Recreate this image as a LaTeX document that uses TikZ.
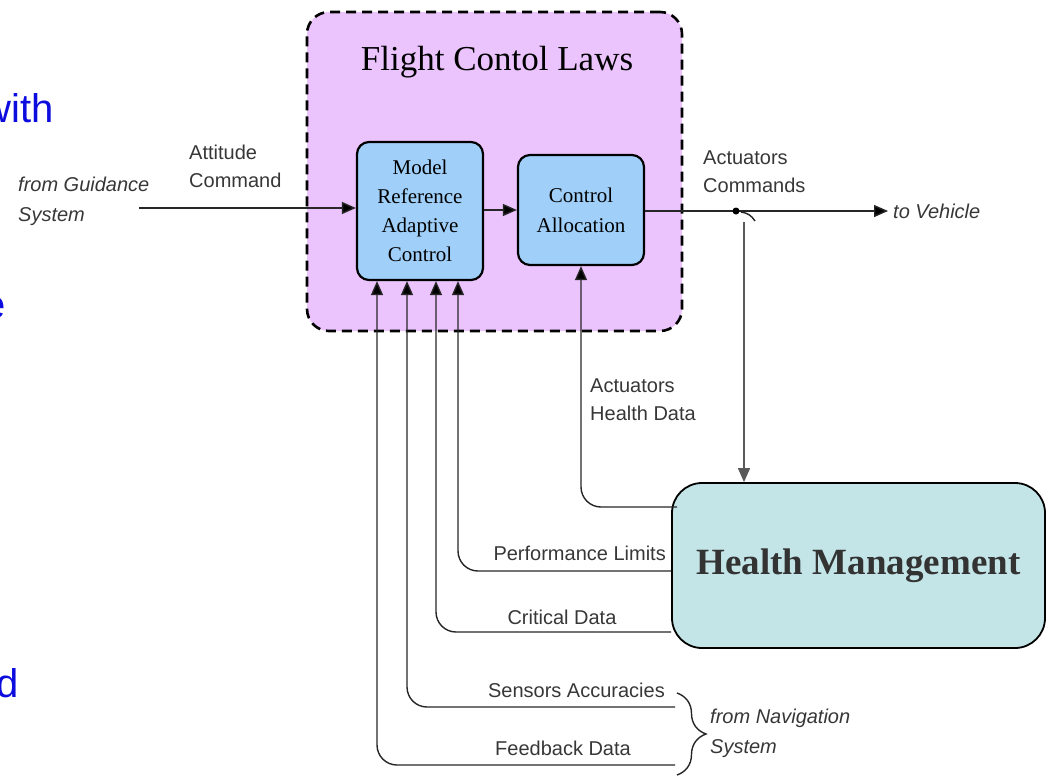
\documentclass[tikz,border=0pt]{standalone}
\usepackage{fontspec}
\setmainfont{Liberation Serif}
\setsansfont{Liberation Sans}
\usepackage{tikz}
\usetikzlibrary{arrows.meta, decorations.pathreplacing, calc}
\tikzset{>={Triangle[length=14pt,width=12pt,fill=black]}}
\definecolor{lawsfill}{RGB}{236,196,253}
\definecolor{blkfill}{RGB}{160,208,250}
\definecolor{hmfill}{RGB}{196,229,232}
\definecolor{slideblue}{RGB}{12,12,222}
\definecolor{lblgray}{RGB}{55,55,55}

\begin{document}
\begin{tikzpicture}[x=1pt, y=-1pt,
    lawsbox/.style={draw=black, line width=2.6pt, dash pattern=on 10pt off 6pt, fill=lawsfill, rounded corners=22pt, minimum width=375pt, minimum height=319pt},
    ctrlbox/.style={draw=black, line width=2.2pt, fill=blkfill, rounded corners=12pt, align=center, inner sep=0pt, font=\fontsize{21}{29}\selectfont},
    hmbox/.style={draw=black, line width=1.8pt, fill=hmfill, rounded corners=30pt, minimum width=373pt, minimum height=165pt, text=black!80, font=\bfseries\fontsize{37}{40}\selectfont},
    lbl/.style={font=\sffamily\fontsize{20}{28}\selectfont, text=lblgray, inner sep=0pt, align=left},
    ilbl/.style={lbl, font=\sffamily\itshape\fontsize{20}{30}\selectfont},
    slide/.style={font=\sffamily\fontsize{40}{44}\selectfont, text=slideblue, inner sep=0pt},
    sig/.style={line width=1.4pt, black!85}]

 \useasboundingbox (0,0) rectangle (1046,777);

 % cut-off slide text at the left edge
 \begin{scope}
   \clip (0,0) rectangle (1046,777);
   \node[slide, anchor=base east] (sw) at (54,122) {with};
   \node[slide, anchor=base east] (se) at (6,318) {e};
   \node[slide, anchor=base east] (sd) at (19,697) {d};
 \end{scope}

 % flight control laws
 \node[lawsbox] (laws) at (494.5,171.5) {};
 \node[font=\fontsize{35}{40}\selectfont, anchor=base] (title) at (497,70) {Flight Contol Laws};

 \node[ctrlbox, minimum width=126pt, minimum height=138pt] (mrac) at (420,211) {Model\\Reference\\Adaptive\\Control};
 \node[ctrlbox, minimum width=126pt, minimum height=110pt, font=\fontsize{21}{30}\selectfont] (ca) at (581,210) {Control\\Allocation};

 \node[hmbox] (hm) at (858.5,565.5) {Health Management};

 % free ends
 \coordinate (guid) at (139,208);
 \coordinate (veh) at (888,211);
 \coordinate (tap) at (736,211);
 \coordinate (hmin) at (677,507);
 \coordinate (sens) at (675,707);
 \coordinate (feed) at (675,765);

 % forward path
 \draw[sig,->] (guid) -- (guid -| mrac.west);
 \draw[sig,->] (mrac.east |- 0,210) -- (ca.west |- 0,210);
 \draw[sig,->] (ca.east |- veh) -- (veh);
 \fill[black] (tap) circle[radius=3.5pt];
 \draw[sig] ($(tap)+(5,1)$) to[bend left=25] ($(tap)+(19,10)$);
 \draw[line width=1.4pt, black!65, -{Triangle[length=14pt,width=12pt]}] ($(tap)+(8,11)$) -- (hm.north -| 744,0);

 % feedback into the controller
 \draw[sig,->,rounded corners=20pt] (hmin) -| (ca.south);
 \draw[sig,->,rounded corners=20pt] (hm.west |- 0,571) -| ($(mrac.south)+(38,0)$);
 \draw[sig,->,rounded corners=20pt] (hm.west |- 0,632) -| ($(mrac.south)+(16,0)$);
 \draw[sig,->,rounded corners=20pt] (sens) -| ($(mrac.south)+(-13,0)$);
 \draw[sig,->,rounded corners=20pt] (feed) -| ($(mrac.south)+(-43,0)$);

 \draw[sig, decorate, decoration={brace, amplitude=29pt}] (677,693) -- (677,775);

 % labels
 \node[ilbl, anchor=west] (fromg) at (18,201) {from Guidance\\System};
 \node[lbl, anchor=west] (att) at (189,166) {Attitude\\Command};
 \node[lbl, anchor=west] (actc) at (703,172) {Actuators\\Commands};
 \node[ilbl, anchor=west] (tov) at (893,211) {to Vehicle};
 \node[lbl, anchor=west] (acth) at (590,400) {Actuators\\Health Data};
 \node[lbl, anchor=east] (perf) at (666,553) {Performance Limits};
 \node[lbl] (crit) at (562,617) {Critical Data};
 \node[lbl, anchor=east] (sacc) at (665,690) {Sensors Accuracies};
 \node[lbl] (fbd) at (563,748) {Feedback Data};
 \node[ilbl, anchor=west] (fromn) at (710,733) {from Navigation\\System};

\end{tikzpicture}
\end{document}
